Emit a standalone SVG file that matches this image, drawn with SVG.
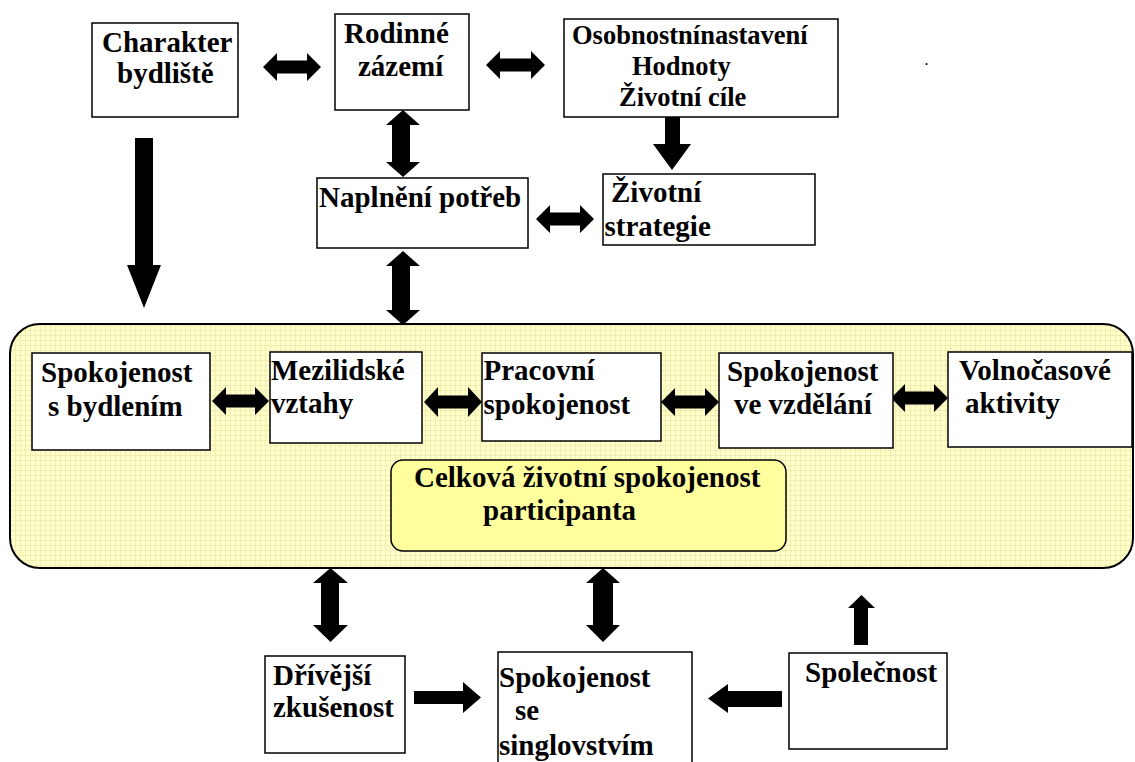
<svg xmlns="http://www.w3.org/2000/svg" width="1135" height="762" viewBox="0 0 1135 762" font-family="'Liberation Serif', 'DejaVu Serif', 'Times New Roman', serif">
<style>
.box{fill:#fff;stroke:#000;stroke-width:1.5}
.t{font-family:'Liberation Serif','DejaVu Serif','Times New Roman',serif;font-weight:700;font-size:29px;fill:#000}
.s{font-size:26.5px}
.arr{fill:#000;stroke:none}
</style>
<defs>
<pattern id="grid" width="5" height="5" patternUnits="userSpaceOnUse">
<rect width="5" height="5" fill="#FFFFC8"/>
<path d="M0 0.5H5M0.5 0V5" stroke="#F2EDB4" stroke-width="1"/>
</pattern>
</defs>
<rect width="1135" height="762" fill="#fff"/>
<g id="container">
<rect x="10" y="324" width="1123" height="244" rx="30" ry="30" fill="url(#grid)" stroke="#000" stroke-width="2"/>
</g>
<g id="connectors">
<polygon class="arr" points="263,67 277,53 277,60.5 307,60.5 307,53 321,67 307,81 307,73.5 277,73.5 277,81"/>
<polygon class="arr" points="486,65 500,51 500,58.5 531,58.5 531,51 545,65 531,79 531,71.5 500,71.5 500,79"/>
<polygon class="arr" points="536,219 550,205 550,212.5 580,212.5 580,205 594,219 580,233 580,225.5 550,225.5 550,233"/>
<polygon class="arr" points="212,401 226,387 226,394.5 255,394.5 255,387 269,401 255,415 255,407.5 226,407.5 226,415"/>
<polygon class="arr" points="424,402 438,387 438,395.5 468,395.5 468,387 482,402 468,417 468,408.5 438,408.5 438,417"/>
<polygon class="arr" points="661,402 675,388 675,395.5 705,395.5 705,388 719,402 705,416 705,408.5 675,408.5 675,416"/>
<polygon class="arr" points="891,398 905,384 905,391.5 934,391.5 934,384 948,398 934,412 934,404.5 905,404.5 905,412"/>
<polygon class="arr" points="403,110 420,125 410,125 410,162 420,162 403,177 386,162 392,162 392,125 386,125"/>
<polygon class="arr" points="403,251 420,266 410,266 410,310 420,310 403,325 386,310 392,310 392,266 386,266"/>
<polygon class="arr" points="330.5,568 348,583 339,583 339,625 348,625 330.5,642 313,625 321,625 321,583 313,583"/>
<polygon class="arr" points="603,568 620,583 613,583 613,625 620,625 603,642 586,625 593,625 593,583 586,583"/>
<polygon class="arr" points="135,138 153,138 153,265 161,265 144,308 127,265 135,265"/>
<polygon class="arr" points="665,117 680,117 680,144 691,144 672,170 653,144 665,144"/>
<polygon class="arr" points="414,691 463,691 463,682 481,697.5 463,713 463,704 414,704"/>
<polygon class="arr" points="782,691 728,691 728,684 708,698.5 728,713 728,707 782,707"/>
<polygon class="arr" points="861.5,595 875,608 868,608 868,645 854,645 854,608 848,608"/>
</g>
<g id="charakter">
<rect class="box" x="92" y="23" width="146" height="94"/>
<text class="t" x="102" y="52">Charakter</text>
<text class="t" x="117" y="83">bydliště</text>
</g>
<g id="rodinne">
<rect class="box" x="335" y="14" width="134" height="96"/>
<text class="t" x="344" y="43">Rodinné</text>
<text class="t" x="358" y="76">zázemí</text>
</g>
<g id="osobnost">
<rect class="box" x="564" y="19" width="274" height="98"/>
<text class="t s" x="572" y="44">Osobnostnínastavení</text>
<text class="t s" x="632" y="75">Hodnoty</text>
<text class="t s" x="619" y="106">Životní cíle</text>
</g>
<g id="dot">
<text class="t" x="925" y="65" style="font-size:12px">.</text>
</g>
<g id="naplneni">
<rect class="box" x="317" y="178" width="211" height="70"/>
<text class="t" x="319" y="207">Naplnění potřeb</text>
</g>
<g id="strategie">
<rect class="box" x="603" y="174" width="212" height="71"/>
<text class="t" x="611" y="202">Životní</text>
<text class="t" x="604.5" y="236">strategie</text>
</g>
<g id="bydleni">
<rect class="box" x="32" y="353" width="178" height="97"/>
<text class="t" x="41" y="382">Spokojenost</text>
<text class="t" x="48" y="416">s bydlením</text>
</g>
<g id="mezilidske">
<rect class="box" x="270" y="352" width="152" height="91"/>
<text class="t" x="271" y="380">Mezilidské</text>
<text class="t" x="271" y="413">vztahy</text>
</g>
<g id="pracovni">
<rect class="box" x="482" y="353" width="179" height="88"/>
<text class="t" x="483.5" y="380">Pracovní</text>
<text class="t" x="483.5" y="414">spokojenost</text>
</g>
<g id="vzdelani">
<rect class="box" x="719" y="353" width="174" height="95"/>
<text class="t" x="727" y="381">Spokojenost</text>
<text class="t" x="734" y="414">ve vzdělání</text>
</g>
<g id="volnocas">
<rect class="box" x="948" y="352" width="184" height="95"/>
<text class="t" x="959" y="380">Volnočasové</text>
<text class="t" x="965" y="413">aktivity</text>
</g>
<g id="celkova">
<rect x="391" y="460" width="395" height="91" rx="12" ry="12" fill="#FFFF9E" stroke="#000" stroke-width="1.5"/>
<text class="t" x="414" y="487">Celková životní spokojenost</text>
<text class="t" x="483" y="520">participanta</text>
</g>
<g id="drivejsi">
<rect class="box" x="265" y="656" width="140" height="97"/>
<text class="t" x="273" y="685">Dřívější</text>
<text class="t" x="273" y="717">zkušenost</text>
</g>
<g id="singl">
<rect class="box" x="498" y="652" width="194" height="120"/>
<text class="t" x="499" y="687">Spokojenost</text>
<text class="t" x="515" y="720">se</text>
<text class="t" x="499" y="755">singlovstvím</text>
</g>
<g id="spolecnost">
<rect class="box" x="789" y="653" width="158" height="96"/>
<text class="t" x="805" y="682">Společnost</text>
</g>
</svg>
